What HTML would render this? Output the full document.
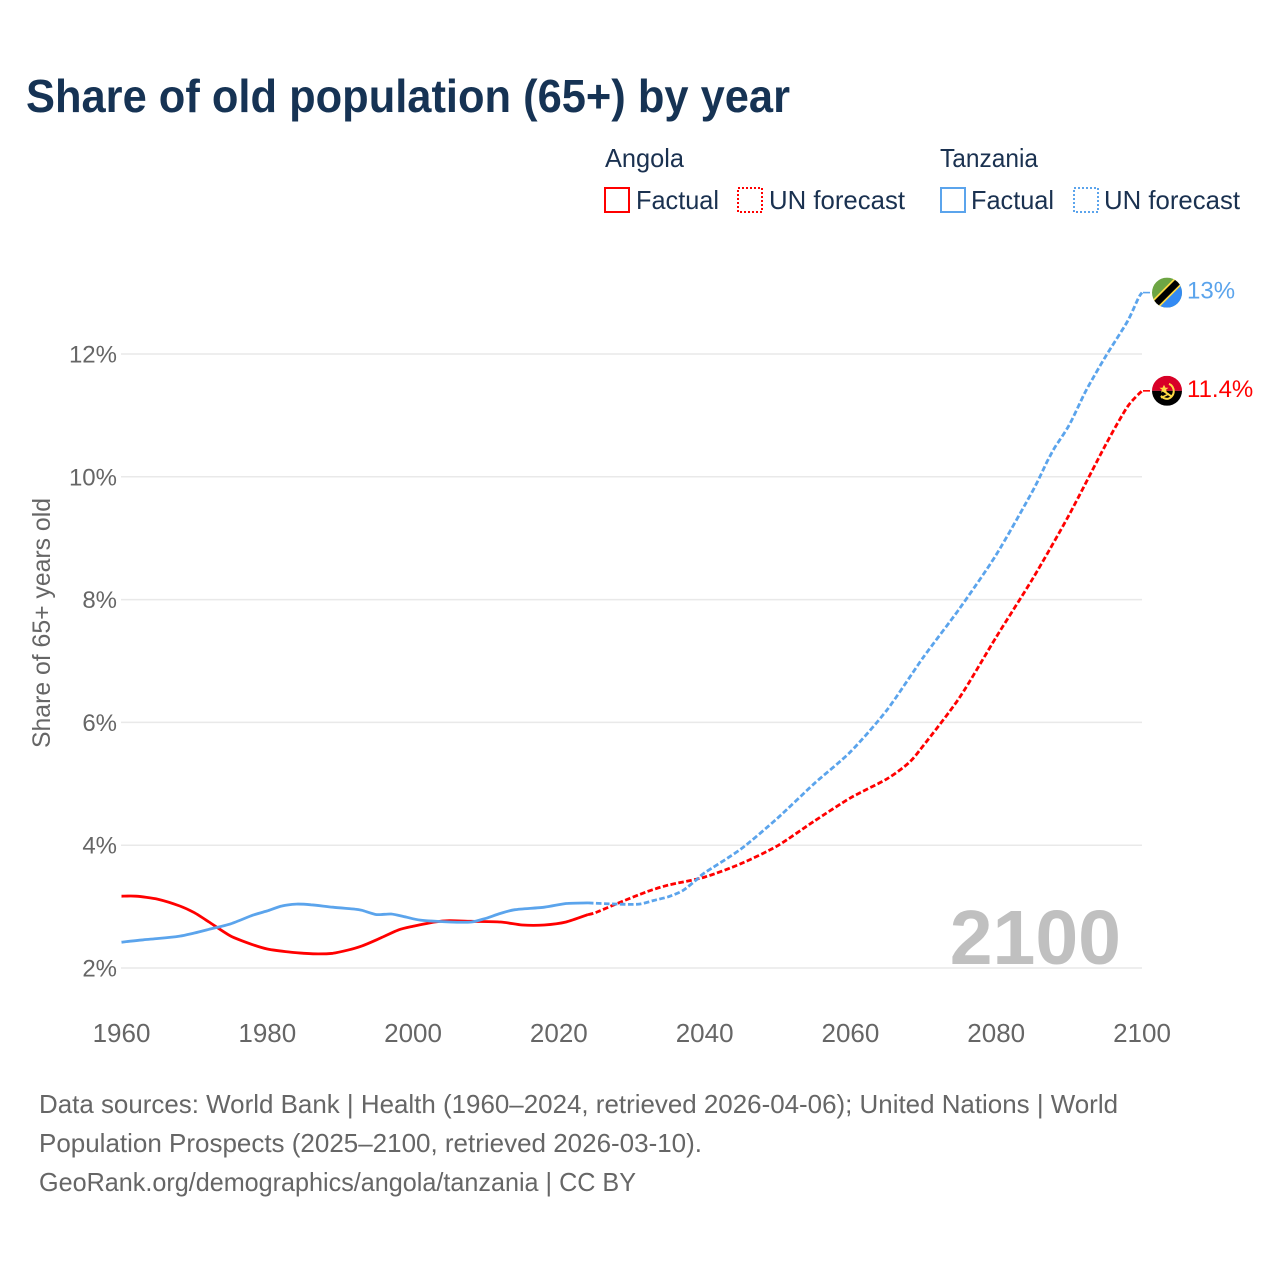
<!DOCTYPE html>
<html lang="en">
<head>
<meta charset="utf-8">
<title>Share of old population (65+) by year</title>
<style>
html,body{margin:0;padding:0;background:#fff;}
svg{display:block;font-family:"Liberation Sans",sans-serif;}
</style>
</head>
<body>
<svg id="chart" width="1280" height="1280" viewBox="0 0 1280 1280" xmlns="http://www.w3.org/2000/svg">
  <defs>
    <clipPath id="flag-clip"><circle cx="0" cy="0" r="15"/></clipPath>
  </defs>
  <rect x="0" y="0" width="1280" height="1280" fill="#fff"/>
  <text x="26" y="112" font-size="46" font-weight="700" fill="#163354" textLength="764" lengthAdjust="spacingAndGlyphs">Share of old population (65+) by year</text>

  <g font-size="26" fill="#1a3150">
    <text x="605" y="167" textLength="79" lengthAdjust="spacingAndGlyphs">Angola</text>
    <rect x="605" y="188" width="24" height="24" fill="none" stroke="#ff0000" stroke-width="2"/>
    <text x="636" y="209" textLength="83" lengthAdjust="spacingAndGlyphs">Factual</text>
    <rect x="738" y="188" width="24" height="24" fill="none" stroke="#ff0000" stroke-width="2" stroke-dasharray="2 2"/>
    <text x="769" y="209" textLength="136" lengthAdjust="spacingAndGlyphs">UN forecast</text>
    <text x="940" y="167" textLength="98" lengthAdjust="spacingAndGlyphs">Tanzania</text>
    <rect x="941" y="188" width="24" height="24" fill="none" stroke="#5ba4ec" stroke-width="2"/>
    <text x="971" y="209" textLength="83" lengthAdjust="spacingAndGlyphs">Factual</text>
    <rect x="1074" y="188" width="24" height="24" fill="none" stroke="#5ba4ec" stroke-width="2" stroke-dasharray="2 2"/>
    <text x="1104" y="209" textLength="136" lengthAdjust="spacingAndGlyphs">UN forecast</text>
  </g>

  <text transform="translate(50,623) rotate(-90)" text-anchor="middle" font-size="25" fill="#666" textLength="250" lengthAdjust="spacingAndGlyphs">Share of 65+ years old</text>

  <g id="grid"></g>
  <g id="y-ticks"></g>
  <g id="x-ticks"></g>

  <text x="1121" y="964" text-anchor="end" font-size="77" font-weight="700" fill="#c0c0c0">2100</text>

  <g id="series"></g>

  <g id="flag-tanzania">
    <g clip-path="url(#flag-clip)">
      <rect x="-15" y="-15" width="30" height="30" fill="#6da544"/>
      <polygon points="15,-15 15,15 -15,15" fill="#338af3"/>
      <line x1="-15" y1="15" x2="15" y2="-15" stroke="#ffda44" stroke-width="10"/>
      <line x1="-15" y1="15" x2="15" y2="-15" stroke="#000" stroke-width="6.5"/>
    </g>
  </g>
  <g id="flag-angola">
    <g clip-path="url(#flag-clip)">
      <rect x="-15" y="-15" width="30" height="15" fill="#d80027"/>
      <rect x="-15" y="0" width="30" height="15" fill="#000"/>
      <path d="M2,-7 A8,8 0 0 1 1,8 A8,8 0 0 1 -6,5" fill="none" stroke="#ffda44" stroke-width="2"/>
      <path d="M-5,-1 L5,6" stroke="#ffda44" stroke-width="2"/>
      <path d="M-6,7 L2,3" stroke="#ffda44" stroke-width="1.5"/>
      <polygon points="-3,-6 -1.5,-3 1.5,-3 -1,-1 0,2 -3,0 -6,2 -5,-1 -7.5,-3 -4.5,-3" fill="#ffda44"/>
    </g>
  </g>
  <g id="end-labels"></g>

  <g font-size="26" fill="#666">
    <text x="39" y="1113" textLength="1079" lengthAdjust="spacingAndGlyphs">Data sources: World Bank | Health (1960–2024, retrieved 2026-04-06); United Nations | World</text>
    <text x="39" y="1152" textLength="663" lengthAdjust="spacingAndGlyphs">Population Prospects (2025–2100, retrieved 2026-03-10).</text>
    <text x="39" y="1191" textLength="597" lengthAdjust="spacingAndGlyphs">GeoRank.org/demographics/angola/tanzania | CC BY</text>
  </g>
</svg>
<script>
const xTicks = [1960, 1980, 2000, 2020, 2040, 2060, 2080, 2100];
const yTicks = [2, 4, 6, 8, 10, 12];

const angolaFactualYears = [1960,1962,1965,1968,1970,1972,1975,1978,1980,1983,1985,1987,1989,1991,1993,1995,1998,2000,2003,2005,2008,2012,2015,2018,2021,2024];
const angolaFactualValues = [3.17,3.17,3.12,3.01,2.90,2.75,2.52,2.38,2.31,2.26,2.24,2.23,2.24,2.29,2.36,2.46,2.62,2.68,2.75,2.77,2.76,2.75,2.70,2.70,2.75,2.87];

const angolaForecastYears = [2024,2025,2028,2032,2035,2040,2045,2050,2055,2060,2065,2068,2070,2075,2080,2085,2090,2095,2098,2100];
const angolaForecastValues = [2.87,2.90,3.05,3.24,3.35,3.48,3.70,3.99,4.39,4.77,5.08,5.34,5.62,6.41,7.39,8.34,9.38,10.52,11.14,11.4];

const tanzaniaFactualYears = [1960,1963,1965,1968,1970,1972,1975,1978,1980,1982,1984,1986,1989,1992,1993,1995,1997,1999,2001,2005,2008,2010,2012,2014,2018,2021,2024];
const tanzaniaFactualValues = [2.42,2.46,2.48,2.52,2.57,2.63,2.72,2.86,2.93,3.01,3.04,3.03,2.99,2.96,2.94,2.87,2.88,2.83,2.78,2.75,2.75,2.81,2.89,2.95,2.99,3.05,3.06];

const tanzaniaForecastYears = [2024,2028,2031,2033,2035,2037,2039,2040,2045,2050,2055,2060,2065,2070,2075,2080,2085,2087,2088,2090,2092,2093,2095,2098,2099.5,2100];
const tanzaniaForecastValues = [3.06,3.04,3.04,3.10,3.16,3.26,3.45,3.55,3.94,4.44,5.00,5.52,6.20,7.06,7.86,8.73,9.77,10.25,10.47,10.84,11.33,11.55,11.96,12.53,12.91,13.0];

const endLabels = ['11.4%', '13%'];
const endValues = [11.4, 13.0];

const NS = 'http://www.w3.org/2000/svg';
const xScale = function (year) { return 121.5 + (year - 1960) * (1142 - 121.5) / 140; };
const yScale = function (value) { return 968 - (value - 2) * (968 - 354) / 10; };

function make(tag, parentId, attrs) {
  const el = document.createElementNS(NS, tag);
  Object.keys(attrs).forEach(function (k) { el.setAttribute(k, attrs[k]); });
  document.getElementById(parentId).appendChild(el);
  return el;
}

yTicks.forEach(function (v) {
  const line = make('line', 'grid', { x1: 121, x2: 1142, y1: yScale(v), y2: yScale(v), stroke: '#e9e9e9', 'stroke-width': 1.5 });
  
  
  const label = make('text', 'y-ticks', { x: 117, y: yScale(v) + 8.5, 'text-anchor': 'end', 'font-size': 24, fill: '#666' });
  label.textContent = v + '%';
  
  
});

xTicks.forEach(function (t) {
  const label = make('text', 'x-ticks', { x: xScale(t), y: 1042, 'text-anchor': 'middle', 'font-size': 26, fill: '#666' });
  label.textContent = t;
  
  
});

function smoothPath(years, values) {
  const p = years.map(function (y, i) { return [xScale(y), yScale(values[i])]; });
  let d = 'M' + p[0][0].toFixed(1) + ' ' + p[0][1].toFixed(1);
  for (let i = 0; i < p.length - 1; i++) {
    const a = p[Math.max(i - 1, 0)], b = p[i], c = p[i + 1], e = p[Math.min(i + 2, p.length - 1)];
    const k = 1 / 8;
    d += ' C' + (b[0] + (c[0] - a[0]) * k).toFixed(1) + ' ' + (b[1] + (c[1] - a[1]) * k).toFixed(1) +
         ' ' + (c[0] - (e[0] - b[0]) * k).toFixed(1) + ' ' + (c[1] - (e[1] - b[1]) * k).toFixed(1) +
         ' ' + c[0].toFixed(1) + ' ' + c[1].toFixed(1);
  }
  return d;
}

function drawLine(years, values, color, dashed) {
  const attrs = { d: smoothPath(years, values), fill: 'none', stroke: color, 'stroke-width': 2.8, 'stroke-linejoin': 'round' };
  if (dashed) { attrs['stroke-dasharray'] = '5.5 2.5'; }
  return make('path', 'series', attrs);
}

const l1 = drawLine(angolaForecastYears, angolaForecastValues, '#ff0000', true);


const l2 = drawLine(tanzaniaForecastYears, tanzaniaForecastValues, '#5ba4ec', true);


const l3 = drawLine(angolaFactualYears, angolaFactualValues, '#ff0000', false);


const l4 = drawLine(tanzaniaFactualYears, tanzaniaFactualValues, '#5ba4ec', false);



const endColors = ['#ff0000', '#5ba4ec'];
const flagIds = ['flag-angola', 'flag-tanzania'];
endValues.forEach(function (v, i) {
  const y = yScale(v);
  const stub = make('line', 'series', { x1: xScale(2100) + 1, x2: xScale(2100) + 8, y1: y, y2: y, stroke: endColors[i], 'stroke-width': 1.6 });
  
  
  document.getElementById(flagIds[i]).setAttribute('transform', 'translate(1167,' + y.toFixed(1) + ')');
  const label = make('text', 'end-labels', { x: 1187, y: y + 6, 'font-size': 24, fill: endColors[i] });
  label.textContent = endLabels[i];
  
  
});
</script>
</body>
</html>
